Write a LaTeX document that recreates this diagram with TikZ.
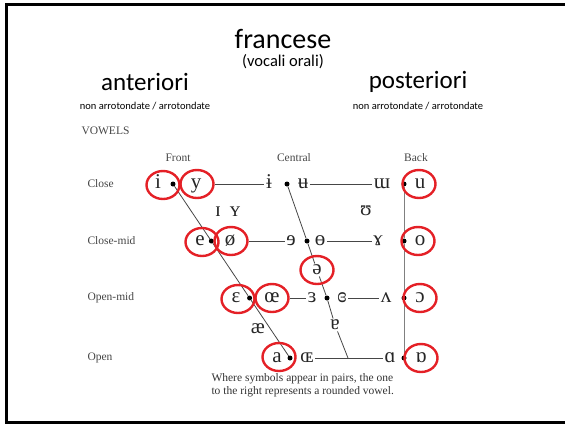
\documentclass[tikz,border=0pt]{standalone}
\usepackage{fontspec}
\setmainfont{Carlito}
\newfontfamily\chartfont{Liberation Serif}
\usetikzlibrary{shapes.geometric,positioning}
\definecolor{ringred}{RGB}{228,32,38}
\definecolor{chartgray}{RGB}{70,70,70}

\begin{document}
\begin{tikzpicture}[x=1pt,y=-1pt,
    title/.style={font=\fontsize{28}{30}\selectfont, inner sep=1pt},
    subtitle/.style={font=\fontsize{16.5}{18}\selectfont, inner sep=1pt},
    group/.style={font=\fontsize{25}{27}\selectfont},
    note/.style={font=\fontsize{10.5}{12}\selectfont},
    chartlabel/.style={font=\chartfont\fontsize{11.5}{13}\selectfont, text=chartgray},
    vowel/.style={font=\chartfont\fontsize{21}{22}\selectfont, text=black!85, inner sep=1.5pt, text height=9.5pt, text depth=0pt},
    dot/.style={circle, fill=black, inner sep=0pt, minimum size=5pt},
    ring/.style={ellipse, draw=ringred, line width=2.4pt, minimum width=33pt, minimum height=28pt},
    chartline/.style={chartgray, line width=0.8pt}
]
\useasboundingbox (0,0) rectangle (565,424);
\clip (0,0) rectangle (565,424);

% Slide frame
\draw[line width=3pt] (6,4) rectangle (580,422);

% Slide titles
\node[title] (title) at (283,39) {francese};
\node[subtitle] (sub) at (283,62) {(vocali orali)};
\node[group] (ant) at (145,82) {anteriori};
\node[group] (post) at (418,82) {posteriori};
\node[note] (antnote) at (145,106) {non arrotondate / arrotondate};
\node[note] (postnote) at (418,106) {non arrotondate / arrotondate};

% Chart heading and axis labels
\node[chartlabel, anchor=west, font=\chartfont\fontsize{11.5}{13}\selectfont] (vowels) at (78,131) {VOWELS};
\foreach \name/\x/\txt in {front/178/Front, central/294/Central, back/416/Back}
    \node[chartlabel] (\name) at (\x,158) {\txt};
\foreach \name/\y/\txt in {close/184/Close, closemid/241/Close-mid, openmid/298/Open-mid, open/358/Open}
    \node[chartlabel, anchor=west] (\name) at (84,\y) {\txt};

% Vowel symbols
\foreach \name/\x/\y/\sym in {vi/158/184/i, vy/196/184/y, vibar/269/184/ɨ, vubar/303/184/ʉ, vturnm/382/184/ɯ, vu/420/184/u,
    vsmi/218/212/ɪ, vsmy/235/212/ʏ, vupsilon/366/211/ʊ,
    ve/200/241/e, voslash/230/241/ø, vrevE/291/241/ɘ, vbarO/320/241/ɵ, vramshorn/378/241/ɤ, vo/420/241/o,
    vschwa/317/270/ə,
    veps/236/298/ɛ, voe/272/298/œ, vreveps/312/298/ɜ, vcloserev/342/298/ɞ, vturnv/386/298/ʌ, vopeno/420/298/ɔ,
    vae/258/329/æ, vturna/335/325/ɐ,
    va/277/358/a, vsmoe/307/358/ɶ, valpha/390/358/ɑ, vturnalpha/421/358/ɒ}
    \node[vowel] (\name) at (\x,\y) {\sym};

% Dots on the chart lines
\foreach \name/\x/\y in {df1/173/184, df2/211.3/241, df3/249.6/298, df4/290/358,
    dc1/287/184, dc2/307/241, dc3/327/298,
    db1/404/184, db2/404/241, db3/404/298, db4/404/358}
    \node[dot] (\name) at (\x,\y) {};
\coordinate (copen) at (348,358);

% Chart lines
\draw[chartline] (df1) -- (df2) -- (df3) -- (df4);
\draw[chartline] (dc1) -- (dc2) -- (vschwa) -- (dc3) -- (vturna) -- (copen);
\draw[chartline, gray] (db1) -- (db2) -- (db3) -- (db4);

% Red rings
\foreach \name/\x/\y in {ri/163/185, ry/197/184, re/202/242, roslash/231/241, ru/419/184, ro/418/241,
    rschwa/317/270, reps/238/299, roe/272/298, ropeno/420/298, ra/279/357, rturnalpha/421/358}
    \node[ring] (\name) at (\x,\y) {};

\draw[chartline] (ry) -- (vibar);
\draw[chartline] (vubar) -- (vturnm);
\draw[chartline] (roslash) -- (vrevE);
\draw[chartline] (vbarO) -- (vramshorn);
\draw[chartline] (roe) -- (vreveps);
\draw[chartline] (vcloserev) -- (vturnv);
\draw[chartline] (vsmoe) -- (valpha);

% Footnote
\node[chartlabel, text=black!80, anchor=north west, align=left, font=\chartfont\fontsize{11.5}{13}\selectfont] (footnote) at (208,370)
    {Where symbols appear in pairs, the one\\to the right represents a rounded vowel.};

\end{tikzpicture}
\end{document}
